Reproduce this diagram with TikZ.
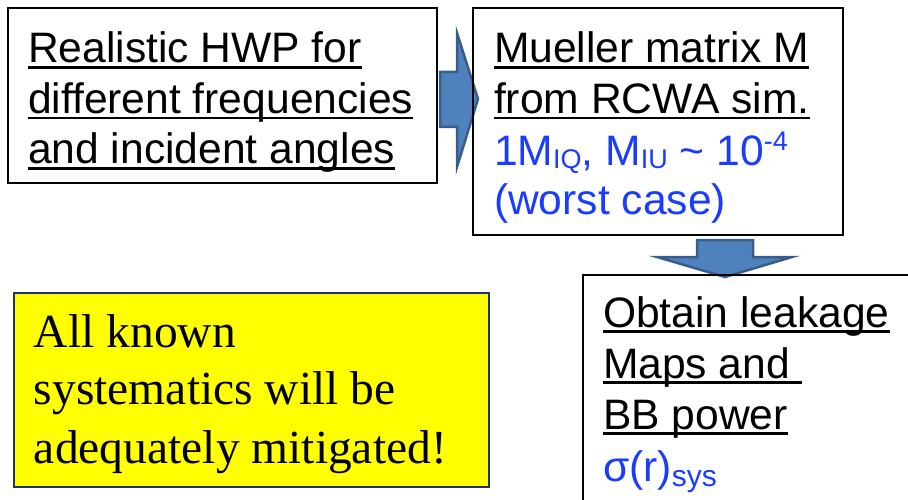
\documentclass[tikz,border=0pt]{standalone}
\usepackage{fontspec}
\setmainfont{Liberation Sans}
\newfontfamily\notefont{Liberation Serif}

\definecolor{txtblue}{RGB}{25,60,255}
\definecolor{arrowfill}{RGB}{79,129,189}
\definecolor{arrowedge}{RGB}{56,93,138}
\definecolor{noteedge}{RGB}{28,52,110}
\definecolor{notefill}{RGB}{255,255,0}

% underline at a fixed depth below the baseline
\newsavebox\ulsave
\newcommand\ulbar[1]{\sbox\ulsave{#1}\rlap{\rule[-6pt]{\wd\ulsave}{2.6pt}}\usebox\ulsave}
\newcommand\lowtxt[1]{\raisebox{-4pt}{\fontsize{27}{27}\selectfont #1}}
\newcommand\hightxt[1]{\raisebox{15pt}{\fontsize{27}{27}\selectfont #1}}

\tikzset{
  box/.style={draw=black, line width=2.5pt, inner sep=0pt, outer sep=0pt},
  note/.style={draw=noteedge, fill=notefill, line width=2.5pt, inner sep=0pt, outer sep=0pt},
  blockarrow/.style={fill=arrowfill, draw=arrowedge, line width=2.5pt, line join=miter},
  line/.style={anchor=base west, inner sep=0pt, outer sep=0pt, font=\fontsize{42.6}{50}\selectfont},
  blueline/.style={line, text=txtblue},
  noteline/.style={anchor=base west, inner sep=0pt, outer sep=0pt, font=\notefont\fontsize{47.5}{58}\selectfont},
}

\begin{document}
\begin{tikzpicture}[x=1pt, y=-1pt]
\useasboundingbox (0,0) rectangle (908,500);
\clip (0,0) rectangle (908,500);

% first stage: the half-wave plate model
\node[box, minimum width=429pt, minimum height=175pt] (hwp) at (222.5,95.5) {};
\node[line] (hwp1) at (28,63)    {\ulbar{Realistic HWP for}};
\node[line] (hwp2) at (28,113.5) {\ulbar{different frequencies}};
\node[line] (hwp3) at (28,164)   {\ulbar{and incident angles}};

% block arrow to the second stage
\draw[blockarrow] (440,72) -- (457,72) -- (457,33) -- (478,99)
  -- (457,167) -- (457,127) -- (440,127) -- cycle;

% second stage: Mueller matrix
\node[box, minimum width=370pt, minimum height=227pt] (mm) at (658,121.5) {};
\node[line] (mm1) at (494,63)    {\ulbar{Mueller matrix M}};
\node[line] (mm2) at (494,113.5) {\ulbar{from RCWA sim.}};
\node[blueline] (mm3) at (494,165) {1M\lowtxt{IQ}, M\lowtxt{IU} \textasciitilde{} 10\hightxt{-4}};
\node[blueline] (mm4) at (494,214.5) {(worst case)};

% block arrow down to the third stage
\draw[blockarrow] (697,240) -- (753,240) -- (753,257) -- (792,257)
  -- (725,277) -- (657,257) -- (697,257) -- cycle;

% third stage: leakage maps
\node[box, minimum width=377pt, minimum height=285pt] (leak) at (771.5,417.5) {};
\node[line] (leak1) at (603,327) {\ulbar{Obtain leakage}};
\node[line] (leak2) at (603,378) {\ulbar{Maps and\ }};
\node[line] (leak3) at (603,429) {\ulbar{BB power}};
\node[blueline] (leak4) at (603,481) {σ(r)\raisebox{-5pt}{\fontsize{30}{30}\selectfont sys}};

% conclusion
\node[note, minimum width=475pt, minimum height=194pt] (concl) at (251.5,390) {};
\node[noteline] (concl1) at (34,347) {All known};
\node[noteline] (concl2) at (34,404) {systematics will be};
\node[noteline] (concl3) at (34,463) {adequately mitigated!};
\end{tikzpicture}
\end{document}
